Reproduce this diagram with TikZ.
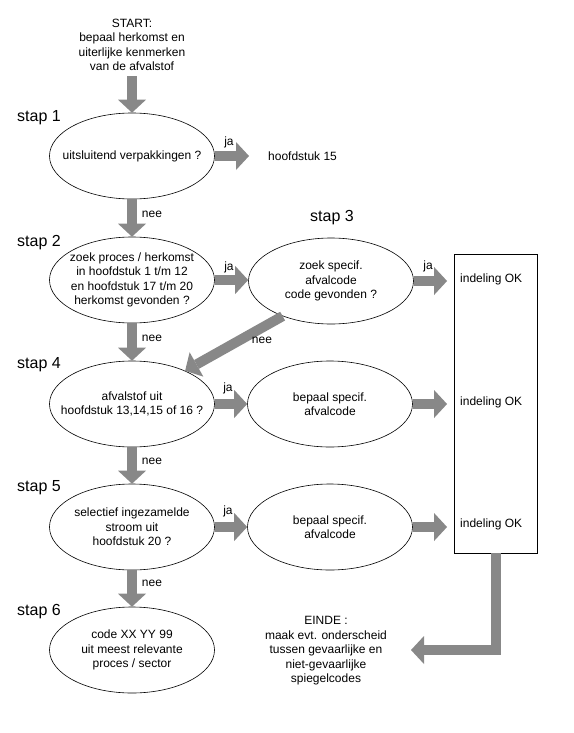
\documentclass[tikz,border=0pt]{standalone}
\usepackage{fontspec}
\setmainfont{Liberation Sans}
\usetikzlibrary{shapes.geometric,arrows.meta}
\definecolor{arrowgray}{RGB}{136,136,136}
\begin{document}
\begin{tikzpicture}[x=1pt,y=-1pt,
  ell/.style={ellipse,draw=black,line width=0.6pt,minimum width=165pt,minimum height=86pt,inner sep=0pt},
  txt/.style={align=center,font=\fontsize{12}{14.5}\selectfont,inner sep=0pt},
  lbl/.style={font=\fontsize{12}{14}\selectfont,inner sep=0pt},
  staplbl/.style={font=\fontsize{16}{18}\selectfont,inner sep=0pt,anchor=west},
  bigarrow/.style={draw=arrowgray,line width=10pt,-{Triangle[width=28pt,length=13pt,line width=0pt]}},
]
\useasboundingbox (0,0) rectangle (573,733);

% start
\node[txt] (start) at (132,45) {START:\\bepaal herkomst en\\uiterlijke kenmerken\\van de afvalstof};

% stap labels
\node[staplbl] (s1) at (17,118) {stap 1};
\node[staplbl] (s2) at (17,243) {stap 2};
\node[staplbl] (s3) at (310,218) {stap 3};
\node[staplbl] (s4) at (17,365) {stap 4};
\node[staplbl] (s5) at (17,488) {stap 5};
\node[staplbl] (s6) at (17,612) {stap 6};

% ellipses left column
\node[ell] (e1) at (132,156) {};
\node[txt] (t1) at (e1) {uitsluitend verpakkingen ?};
\node[ell] (e2) at (132,280) {};
\node[txt] (t2) at (e2) {zoek proces / herkomst\\in hoofdstuk 1 t/m 12\\en hoofdstuk 17 t/m 20\\herkomst gevonden ?};
\node[ell] (e4) at (132,404) {};
\node[txt] (t4) at (e4) {afvalstof uit\\hoofdstuk 13,14,15 of 16 ?};
\node[ell] (e5) at (132,527) {};
\node[txt] (t5) at (e5) {selectief ingezamelde\\stroom uit\\hoofdstuk 20 ?};
\node[ell] (e6) at (132,650) {};
\node[txt] (t6) at (e6) {code XX YY 99\\uit meest relevante\\proces / sector};

% ellipses right column
\node[ell] (e3) at (331,281) {};
\node[txt] (t3) at (e3) {zoek specif.\\afvalcode\\code gevonden ?};
\node[ell] (e4b) at (330,404) {};
\node[txt] (t4b) at (e4b) {bepaal specif.\\afvalcode};
\node[ell] (e5b) at (330,527) {};
\node[txt] (t5b) at (e5b) {bepaal specif.\\afvalcode};

% hoofdstuk 15
\node[lbl,anchor=west] (h15) at (268,156) {hoofdstuk 15};

% rectangle
\node[draw=black,line width=0.9pt,minimum width=83pt,minimum height=299pt,inner sep=0pt] (rect) at (496,403.5) {};
\node[lbl,anchor=west] (ok1) at (460,279) {indeling OK};
\node[lbl,anchor=west] (ok2) at (460,402) {indeling OK};
\node[lbl,anchor=west] (ok3) at (460,524) {indeling OK};

% einde
\node[txt] (einde) at (326,651) {EINDE :\\maak evt. onderscheid\\tussen gevaarlijke en\\niet-gevaarlijke\\spiegelcodes};
\coordinate (endtip) at (411,650);

% arrows
\draw[bigarrow,shorten <=5pt] (start.south) -- (e1.north);
\draw[bigarrow,shorten >=19pt] (e1.east) -- (h15.west);
\draw[bigarrow] (e1.south) -- (e2.north);
\draw[bigarrow] (e2.east) -- (e2.east -| e3.west);
\draw[bigarrow] (e2.south) -- (e4.north);
\draw[bigarrow] (e4.east) -- (e4.east -| e4b.west);
\draw[bigarrow] (e4.south) -- (e5.north);
\draw[bigarrow] (e5.east) -- (e5.east -| e5b.west);
\draw[bigarrow] (e5.south) -- (e6.north);
\draw[bigarrow,shorten >=7pt] (e3.east) -- (e3.east -| rect.west);
\draw[bigarrow,shorten >=7pt] (e4b.east) -- (e4b.east -| rect.west);
\draw[bigarrow,shorten >=7pt] (e5b.east) -- (e5b.east -| rect.west);
\draw[bigarrow] (e3.216) -- (e4.32);
\draw[bigarrow] (rect.south) |- (endtip);

% ja / nee labels
\node[lbl] (ja1) at (229,142) {ja};
\node[lbl] (ja2) at (229,267) {ja};
\node[lbl] (ja3) at (428,266) {ja};
\node[lbl] (ja4) at (228,388) {ja};
\node[lbl] (ja5) at (228,511) {ja};
\node[lbl] (nee1) at (152,214) {nee};
\node[lbl] (nee2) at (152,338) {nee};
\node[lbl] (nee3) at (152,461) {nee};
\node[lbl] (nee4) at (152,583) {nee};
\node[lbl] (nee5) at (262,340) {nee};
\end{tikzpicture}
\end{document}
